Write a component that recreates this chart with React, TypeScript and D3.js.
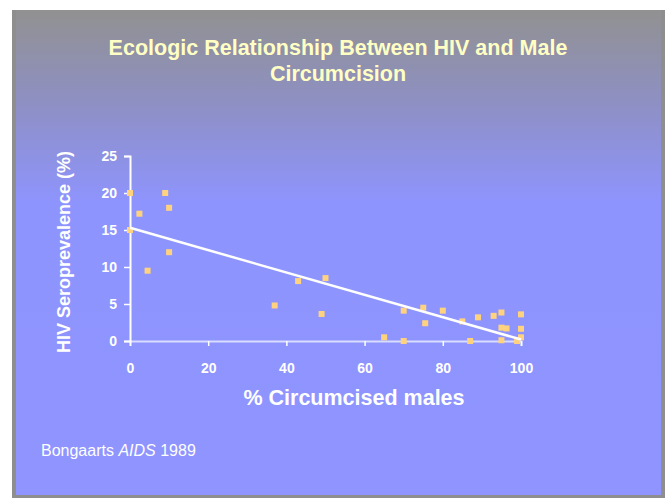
import * as React from 'react'
import * as d3 from 'd3'

const circumcised = [0, 2.4, 0, 4.5, 9, 10, 10, 37, 43, 50, 49, 65, 70, 70, 75, 75.5, 80, 85, 87, 89, 93, 95, 95, 96.3, 95, 100, 100, 100, 99]
const prevalence = [20, 17.2, 15, 9.5, 20, 18, 12, 4.8, 8.1, 8.5, 3.65, 0.5, 4.1, 0, 4.5, 2.4, 4.1, 2.65, 0, 3.2, 3.4, 3.85, 1.8, 1.7, 0.1, 3.6, 1.65, 0.5, 0]
const xTicks = [0, 20, 40, 60, 80, 100]
const yTicks = [0, 5, 10, 15, 20, 25]
const fitLine = [
  { x: 0, y: 15.3 },
  { x: 100, y: 0.2 },
]

const W = 665
const H = 498

export default function App() {
  const svgRef = React.useRef<SVGSVGElement>(null)

  React.useEffect(() => {
    if (!svgRef.current) return
    const svg = d3.select(svgRef.current)
    svg.selectAll('*').remove()

    const font = 'Arial, "Liberation Sans", Helvetica, sans-serif'

    // slide background
    const defs = svg.append('defs')
    const grad = defs
      .append('linearGradient')
      .attr('id', 'bg')
      .attr('x1', 0)
      .attr('y1', 0)
      .attr('x2', 0)
      .attr('y2', 1)
    grad.append('stop').attr('offset', '0%').attr('stop-color', '#919191')
    grad.append('stop').attr('offset', '20%').attr('stop-color', '#8e90c6')
    grad.append('stop').attr('offset', '40%').attr('stop-color', '#8e94fe')
    grad.append('stop').attr('offset', '100%').attr('stop-color', '#8f94ff')

    svg.append('rect').attr('x', 12).attr('y', 10).attr('width', W - 12).attr('height', H - 10).attr('fill', '#8e8e8e')
    svg.append('rect').attr('x', 16).attr('y', 10).attr('width', 645).attr('height', 485).attr('fill', 'url(#bg)')

    // title
    const title = svg
      .append('text')
      .attr('text-anchor', 'middle')
      .attr('fill', '#ffffc4')
      .attr('font-family', font)
      .attr('font-weight', 'bold')
      .attr('font-size', '21.5px')
    title.append('tspan').attr('x', 338).attr('y', 55).text('Ecologic Relationship Between HIV and Male')
    title.append('tspan').attr('x', 338).attr('y', 81).text('Circumcision')

    const x = d3.scaleLinear().domain([0, 100]).range([130, 521])
    const y = d3.scaleLinear().domain([0, 25]).range([341, 156])

    const g = svg.append('g')

    // axes
    const xAxis = g
      .append('g')
      .attr('transform', `translate(0,${y(0)})`)
      .call(d3.axisBottom(x).tickValues(xTicks).tickSize(5).tickPadding(17))
    xAxis.select('.domain').attr('stroke', '#d8dcff').attr('stroke-width', 2)
    xAxis.selectAll('.tick line').attr('stroke', '#ffffff').attr('stroke-width', 1.5)
    xAxis
      .selectAll('.tick text')
      .attr('fill', '#ffffff')
      .attr('font-family', font)
      .attr('font-weight', 'bold')
      .attr('font-size', '14px')

    const yAxis = g
      .append('g')
      .attr('transform', `translate(${x(0)},0)`)
      .call(d3.axisLeft(y).tickValues(yTicks).tickSize(6).tickPadding(7))
    yAxis.select('.domain').attr('stroke', '#ffffff').attr('stroke-width', 2)
    yAxis.selectAll('.tick line').attr('stroke', '#ffffff').attr('stroke-width', 1.5)
    yAxis
      .selectAll('.tick text')
      .attr('fill', '#ffffff')
      .attr('font-family', font)
      .attr('font-weight', 'bold')
      .attr('font-size', '14px')

    // points
    g.selectAll('rect.pt')
      .data(circumcised.map((c, i) => ({ c, p: prevalence[i] })))
      .enter()
      .append('rect')
      .attr('class', 'pt')
      .attr('x', (d) => x(d.c) - 3)
      .attr('y', (d) => y(d.p) - 3)
      .attr('width', 6)
      .attr('height', 6)
      .attr('fill', '#ffd27e')

    // regression line
    const line = d3
      .line<{ x: number; y: number }>()
      .x((d) => x(d.x))
      .y((d) => y(d.y))
    g.append('path').datum(fitLine).attr('d', line).attr('fill', 'none').attr('stroke', '#ffffff').attr('stroke-width', 2.5)

    // axis titles
    svg
      .append('text')
      .attr('x', 354)
      .attr('y', 405)
      .attr('text-anchor', 'middle')
      .attr('fill', '#ffffff')
      .attr('font-family', font)
      .attr('font-weight', 'bold')
      .attr('font-size', '21.5px')
      .text('% Circumcised males')

    svg
      .append('text')
      .attr('transform', 'translate(70,252) rotate(-90)')
      .attr('text-anchor', 'middle')
      .attr('fill', '#ffffff')
      .attr('font-family', font)
      .attr('font-weight', 'bold')
      .attr('font-size', '18px')
      .text('HIV Seroprevalence (%)')

    // source note
    const note = svg
      .append('text')
      .attr('x', 41)
      .attr('y', 456)
      .attr('fill', '#ffffff')
      .attr('font-family', font)
      .attr('font-size', '16px')
    note.append('tspan').text('Bongaarts ')
    note.append('tspan').attr('font-style', 'italic').text('AIDS')
    note.append('tspan').text(' 1989')
  }, [])

  return <svg ref={svgRef} width={W} height={H} style={{ position: 'absolute', left: 0, top: 0 }} />
}
